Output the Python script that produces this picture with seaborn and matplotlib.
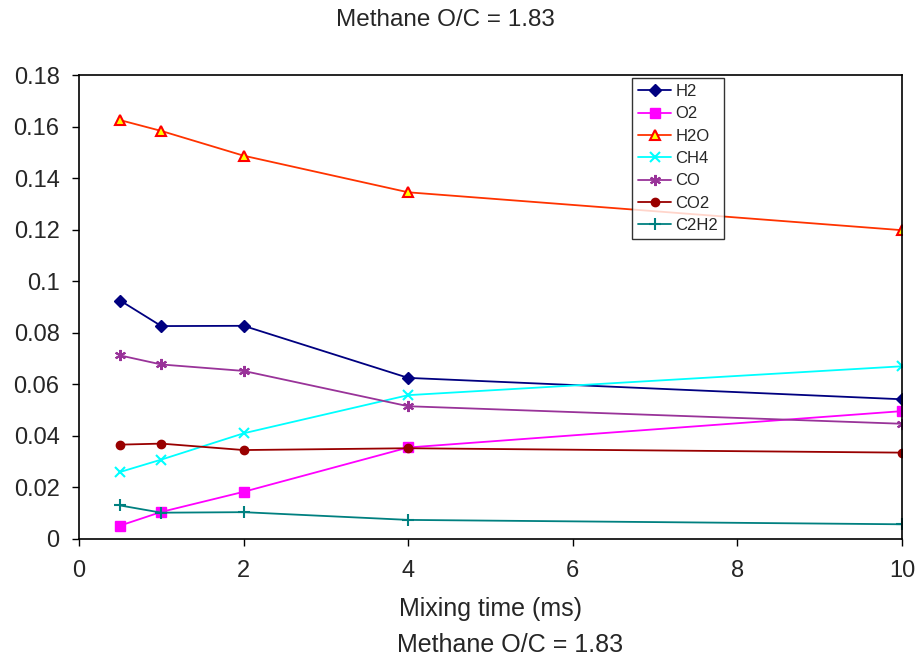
import pandas as pd
import matplotlib
matplotlib.use("Agg")
import matplotlib.pyplot as plt
import seaborn as sns

# mixing time (ms) and mole fractions per species
mixing_time = [0.5, 1, 2, 4, 10]
h2 = [0.0925, 0.0826, 0.0827, 0.0625, 0.0542]
o2 = [0.0052, 0.0105, 0.0183, 0.0355, 0.0496]
h2o = [0.1625, 0.1583, 0.1487, 0.1345, 0.1198]
ch4 = [0.0260, 0.0308, 0.0410, 0.0558, 0.0670]
co = [0.0712, 0.0677, 0.0652, 0.0515, 0.0447]
co2 = [0.0366, 0.0370, 0.0345, 0.0352, 0.0335]
c2h2 = [0.0130, 0.0102, 0.0104, 0.0074, 0.0057]

species = ["H2", "O2", "H2O", "CH4", "CO", "CO2", "C2H2"]
values = [h2, o2, h2o, ch4, co, co2, c2h2]

# line colour, marker, marker face, marker size
styles = {
    "H2": ("#000080", "D", "#000080", 6),
    "O2": ("#FF00FF", "s", "#FF00FF", 7),
    "H2O": ("#FF3300", "^", "#FFFF00", 7),
    "CH4": ("#00FFFF", "x", "#00FFFF", 7),
    "CO": ("#993399", (6, 2, 0), "#993399", 8),
    "CO2": ("#990000", "o", "#990000", 6),
    "C2H2": ("#008080", "+", "#008080", 8),
}

rows = []
for name, vals in zip(species, values):
    for t, v in zip(mixing_time, vals):
        rows.append({"time": t, "value": v, "species": name})
df = pd.DataFrame(rows)

sns.set_style("ticks")
plt.rcParams["font.family"] = ["Liberation Sans", "DejaVu Sans"]

fig = plt.figure(figsize=(9.17, 6.61), dpi=100)
ax = fig.add_axes([0.0862, 0.1846, 0.8974, 0.7019])

for name in species:
    color, marker, face, size = styles[name]
    sub = df[df["species"] == name]
    edge = "#FF0000" if name == "H2O" else color
    sns.lineplot(
        data=sub,
        x="time",
        y="value",
        ax=ax,
        color=color,
        marker=marker,
        markersize=size,
        markerfacecolor=face,
        markeredgecolor=edge,
        markeredgewidth=1.5 if marker in ("x", "+", "^") or name == "CO" else 1,
        linewidth=1.3,
        label=name,
    )

ax.set_xlim(0, 10)
ax.set_ylim(0, 0.18)
ax.set_xticks([0, 2, 4, 6, 8, 10])
ax.set_yticks([0, 0.02, 0.04, 0.06, 0.08, 0.1, 0.12, 0.14, 0.16, 0.18])
ax.set_yticklabels(["0", "0.02", "0.04", "0.06", "0.08", "0.1", "0.12",
                    "0.14", "0.16", "0.18"])
ax.tick_params(labelsize=17, length=5, width=1, color="black")
ax.tick_params(axis="y", pad=9)
ax.tick_params(axis="x", pad=10)
for s in ax.spines.values():
    s.set_color("black")
    s.set_linewidth(1.2)
ax.set_xlabel("")
ax.set_ylabel("")

leg = ax.legend(
    loc="upper left",
    bbox_to_anchor=(0.672, 0.993),
    fontsize=12,
    frameon=True,
    fancybox=False,
    edgecolor="black",
    handlelength=2,
    handletextpad=0.25,
    labelspacing=0.44,
    borderpad=0.35,
    borderaxespad=0,
)
leg.get_frame().set_linewidth(1)

fig.text(0.486, 0.97, "Methane O/C = 1.83", ha="center", va="center", fontsize=17.5)
fig.text(0.535, 0.079, "Mixing time (ms)", ha="center", va="center", fontsize=18)
fig.text(0.556, 0.024, "Methane O/C = 1.83", ha="center", va="center", fontsize=18)

fig.savefig("out.png", dpi=100)
